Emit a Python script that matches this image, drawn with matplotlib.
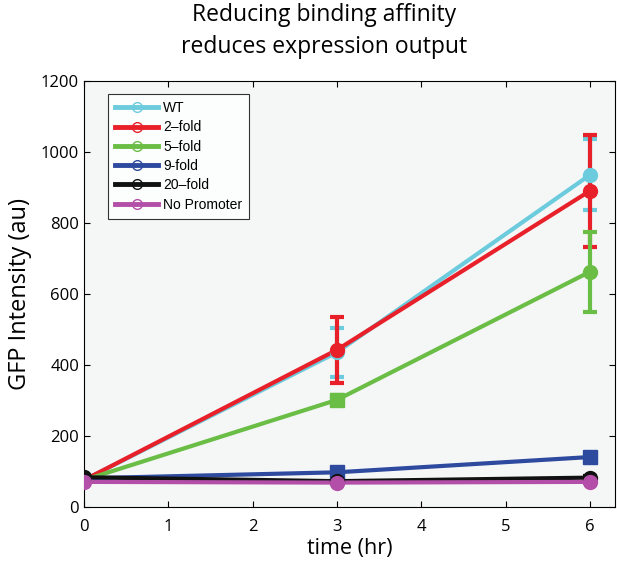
import numpy as np
import matplotlib.pyplot as plt

plt.rcParams['font.family'] = ['Open Sans', 'DejaVu Sans']

# data
time_hr = [0, 3, 6]
labels = ['WT', '2\u2013fold', '5\u2013fold', '9-fold', '20\u2013fold', 'No Promoter']
wt = [75, 435, 935]
wt_err = [0, 68, 100]
fold2 = [75, 442, 890]
fold2_err = [0, 93, 158]
fold5 = [75, 301, 662]
fold5_err = [0, 15, 113]
fold9 = [80, 97, 140]
fold9_err = [0, 8, 10]
fold20 = [83, 72, 82]
fold20_err = [0, 4, 5]
no_prom = [70, 68, 70]
no_prom_err = [0, 3, 3]

series = [wt, fold2, fold5, fold9, fold20, no_prom]
errors = [wt_err, fold2_err, fold5_err, fold9_err, fold20_err, no_prom_err]
colors = ['#6ccbdd', '#e8202a', '#6abd45', '#2e4a9e', '#111111', '#b34fa8']
markers = [['o', 'o', 'o'], ['o', 'o', 'o'], ['o', 's', 'o'],
           ['o', 's', 's'], ['o', 'o', 'o'], ['o', 'o', 'o']]

fig = plt.figure(figsize=(6.17, 5.70), dpi=100)
ax = fig.add_axes([0.136, 0.111, 0.861, 0.747])
ax.set_facecolor('#f5f7f7')

for y, e, c, m, lab in zip(series, errors, colors, markers, labels):
    ax.errorbar(time_hr, y, yerr=e, color=c, lw=3, capsize=5, capthick=3,
                elinewidth=3, zorder=2)
    for xi, yi, mi in zip(time_hr, y, m):
        ax.plot(xi, yi, marker=mi, color=c, ms=10, zorder=3, clip_on=True)
    ax.plot([], [], color=c, lw=3.5, marker='o', mfc='none', ms=7, mew=1,
            label=lab)

ax.set_xlim(0, 6.3)
ax.set_ylim(0, 1200)
ax.set_xticks(range(7))
ax.set_yticks(range(0, 1201, 200))
ax.tick_params(direction='in', top=True, right=True, labelsize=12, length=4)
ax.tick_params(axis='x', pad=9)
ax.set_xlabel('time (hr)', fontsize=15.5, labelpad=2)
ax.set_ylabel('GFP Intensity (au)', fontsize=17, labelpad=6)
fig.text(0.525, 0.995, 'Reducing binding affinity\nreduces expression output',
         fontsize=16.5, ha='center', va='top', linespacing=1.45)
leg = ax.legend(loc='upper left', frameon=True, fancybox=False,
                prop={'family': 'Liberation Sans', 'size': 10},
                edgecolor='black', handlelength=3.1, handletextpad=0.36,
                borderpad=0.5, labelspacing=0.38,
                bbox_to_anchor=(0.033, 0.985))
leg.get_frame().set_linewidth(0.8)
leg.get_frame().set_facecolor('white')

plt.savefig('out.png', dpi=100)
